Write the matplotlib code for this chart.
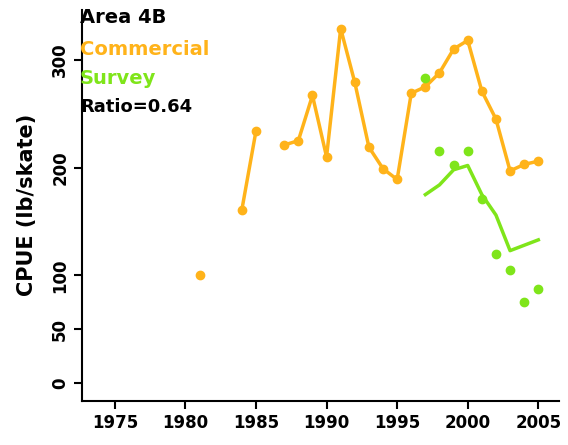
import matplotlib
matplotlib.use("Agg")
import matplotlib.pyplot as plt
import numpy as np

years = [1981, 1982, 1983, 1984, 1985, 1986, 1987, 1988, 1989, 1990, 1991, 1992, 1993, 1994,
         1995, 1996, 1997, 1998, 1999, 2000, 2001, 2002, 2003, 2004, 2005]
commercial = [100, np.nan, np.nan, 161, 234, np.nan, 221, 225, 267, 210, 329, 279, 219, 199,
              189, 269, 275, 288, 310, 318, 271, 245, 197, 203, 206]
survey_years = [1997, 1998, 1999, 2000, 2001, 2002, 2003, 2004, 2005]
survey_pts = [283, 215, 202, 215, 171, 120, 105, 75, 87]
survey_line = [175, 184, 198, 202, 175, 156, 123, 128, 133]

orange = "#FFB31A"
green = "#7FE51A"

fig = plt.figure(figsize=(5.68, 4.45), dpi=100)
ax = fig.add_axes([0.145, 0.10, 0.84, 0.877])

ax.plot(years, commercial, color=orange, lw=2.5, marker="o", ms=6)
ax.plot(survey_years, survey_line, color=green, lw=2.5)
ax.plot(survey_years, survey_pts, "o", color=green, ms=6, ls="none")

ax.set_xlim(1972.7, 2006.5)
ax.set_ylim(-16, 346)
ax.set_xticks(range(1975, 2006, 5))
ax.set_yticks([0, 50, 100, 200, 300])
for s in ["top", "right"]:
    ax.spines[s].set_visible(False)
for s in ["left", "bottom"]:
    ax.spines[s].set_linewidth(1.5)
ax.tick_params(direction="out", width=1.5, length=6, labelsize=12)
for lab in ax.get_xticklabels():
    lab.set_fontweight("bold")
for lab in ax.get_yticklabels():
    lab.set_fontweight("bold")
    lab.set_rotation(90)
    lab.set_va("center")
ax.set_ylabel("CPUE (lb/skate)", fontsize=15, fontweight="bold", labelpad=10)

ax.text(-0.005, 1.005, "Area 4B", transform=ax.transAxes, fontsize=14, fontweight="bold", va="top")
ax.text(-0.005, 0.925, "Commercial", transform=ax.transAxes, fontsize=14, fontweight="bold", va="top", color=orange)
ax.text(-0.005, 0.850, "Survey", transform=ax.transAxes, fontsize=14, fontweight="bold", va="top", color=green)
ax.text(-0.005, 0.775, "Ratio=0.64", transform=ax.transAxes, fontsize=13, fontweight="bold", va="top")

fig.savefig("out.png", dpi=100)
